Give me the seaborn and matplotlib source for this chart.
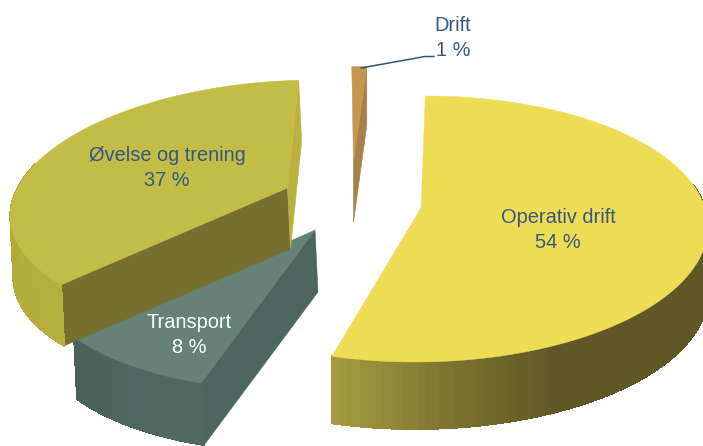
import numpy as np
import matplotlib
matplotlib.use("Agg")
import matplotlib.pyplot as plt
from matplotlib.collections import PolyCollection
import seaborn as sns

# Budget shares, listed clockwise from twelve o'clock
categories = ["Operativ drift", "Transport", "Øvelse og trening", "Drift"]
shares = [54, 8, 37, 1]

# Top face colours and outer wall shading for each slice
top_colors = ["#efdc55", "#668178", "#c2bd47", "#c4974f"]
wall_stops = [
    ["#5f5726"] * 9 + ["#7d7330", "#a69a3e"],
    ["#4f6961", "#4e6760", "#4a6058"],
    ["#b6af3e", "#aea73a", "#b0a93c"],
    ["#a8814a", "#a8814a"],
]
# Colours of the cut faces that turn towards the viewer: (angle side, colour)
cut_faces = [
    [],
    [("start", "#4d665f")],
    [("start", "#757030"), ("end", "#b9b240")],
    [("end", "#a8814a")],
]
label_colors = ["#36587e", "#ffffff", "#36587e", "#36587e"]

# Projection of each exploded slice: apex x/y, radii, perspective, shear, wall offset
views = [
    dict(ox=421, oy=208, A=284, B=129.7, k=0.158, s=5.0, dx=0, depth=67),
    dict(ox=315, oy=230, A=267, B=121.0, k=0.242, s=21.5, dx=3, depth=62),
    dict(ox=287.5, oy=188, A=270, B=121.0, k=0.121, s=29.5, dx=3, depth=61),
    dict(ox=353.5, oy=163, A=270, B=109.0, k=0.130, s=15.0, dx=0, depth=59),
]
label_xy = [(558, 230), (189, 335), (167, 168), (453, 38)]

sns.set_theme(style="white")
plt.rcParams["font.family"] = ["Liberation Sans", "DejaVu Sans"]


def project(theta, v):
    """Map clockwise angles (radians from the top) on the slice's disc to the canvas."""
    u_, v_ = np.sin(theta), np.cos(theta)
    w = 1 + v["k"] * v_
    return v["ox"] + (v["A"] * u_ + v["s"] * v_) / w, v["oy"] - v["B"] * v_ / w


fig = plt.figure(figsize=(7.03, 4.46), dpi=100)
ax = fig.add_axes([0, 0, 1, 1])
ax.set_xlim(0, 703)
ax.set_ylim(446, 0)
ax.axis("off")

edges = np.cumsum([0] + shares) / sum(shares) * 2 * np.pi
draw_order = [3, 2, 1, 0]

for i in draw_order:
    v = views[i]
    start, end = edges[i], edges[i + 1]
    thetas = np.linspace(start, end, 160)
    x, y = project(thetas, v)
    xb, yb = x + v["dx"], y + v["depth"]

    # Cut faces along the radial edges
    for side, color in cut_faces[i]:
        j = 0 if side == "start" else -1
        ax.fill(
            [v["ox"], x[j], xb[j], v["ox"] + v["dx"]],
            [v["oy"], y[j], yb[j], v["oy"] + v["depth"]],
            color=color, lw=0.4, zorder=i + 1,
        )

    # Outer wall built from narrow shaded strips; the far rim stays hidden
    quads = [
        [(x[n], y[n]), (x[n + 1], y[n + 1]), (xb[n + 1], yb[n + 1]), (xb[n], yb[n])]
        for n in range(len(x) - 1)
    ]
    shades = sns.blend_palette(wall_stops[i], n_colors=len(quads))
    near = np.cos(thetas[:-1]) < 0.2
    if near.any():
        ax.add_collection(
            PolyCollection(
                [q for q, keep in zip(quads, near) if keep],
                facecolors=[c for c, keep in zip(shades, near) if keep],
                edgecolors=[c for c, keep in zip(shades, near) if keep],
                linewidths=0.6, antialiaseds=False, zorder=i + 1,
            )
        )

    # Top face
    ax.fill(
        np.r_[v["ox"], x], np.r_[v["oy"], y],
        color=top_colors[i], lw=0.3, zorder=i + 1.5,
    )

# Slice labels
for name, share, (lx, ly), color in zip(categories, shares, label_xy, label_colors):
    ax.text(
        lx, ly, f"{name}\n{share} %", ha="center", va="center",
        fontsize=14.4, color=color, linespacing=1.36, zorder=10,
    )

# Leader line for the smallest slice
ax.plot([361, 425, 434], [68, 56.5, 56.5], color="#2f5573", lw=1.1, zorder=9)

fig.savefig("out.png", dpi=100)
